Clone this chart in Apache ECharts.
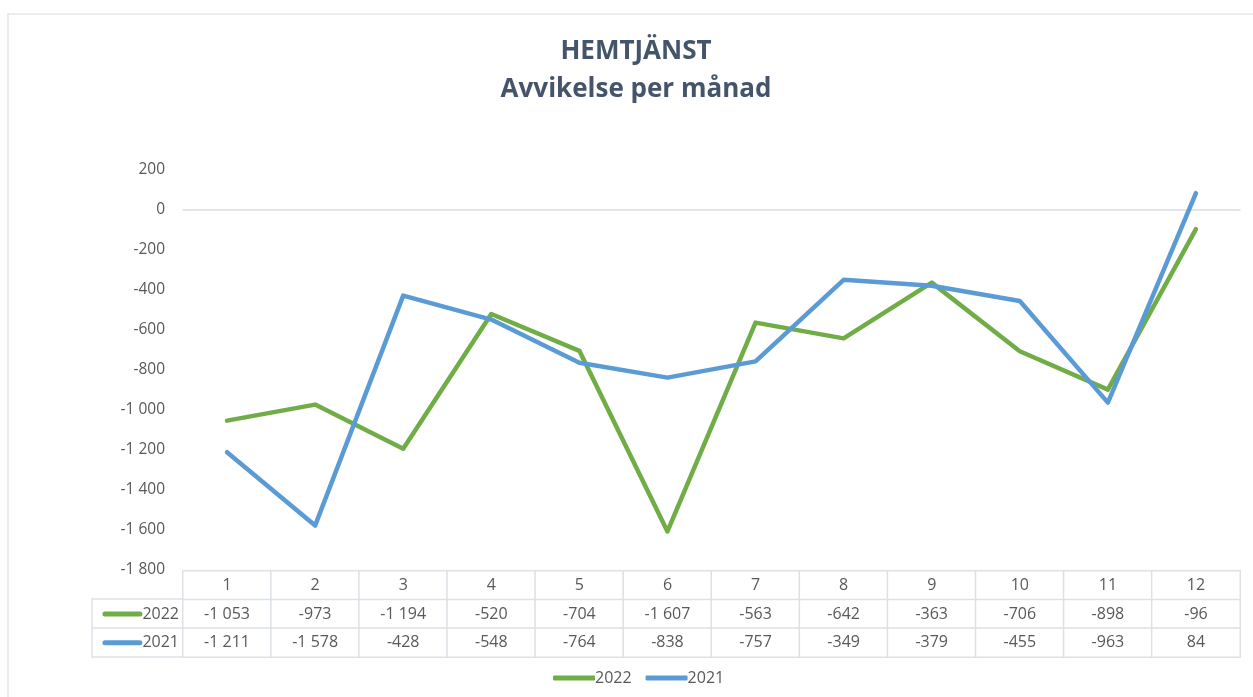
<!DOCTYPE html>
<html><head><meta charset="utf-8">
<script src="https://cdn.jsdelivr.net/npm/echarts@6/dist/echarts.min.js"></script>
<style>html,body{margin:0;padding:0;background:#fff}#c{width:1253px;height:697px}</style>
</head><body><div id="c"></div>
<script>
const months = ['1','2','3','4','5','6','7','8','9','10','11','12'];
const s2022 = [-1053,-973,-1194,-520,-704,-1607,-563,-642,-363,-706,-898,-96];
const s2021 = [-1211,-1578,-428,-548,-764,-838,-757,-349,-379,-455,-963,84];
const seriesNames = ['2022','2021'];
const yTicks = {min:-1800, max:200, interval:200};

const green = '#70ad47', blue = '#5b9bd5';
const txt = '#595959';
const font = 'Open Sans';
const fmt = v => { const s = Math.abs(v).toString().replace(/\B(?=(\d{3})+(?!\d))/g,' '); return (v<0?'-':'') + s; };

const rows = ['', seriesNames[0], seriesNames[1]];
const tableData = [];
months.forEach((m,i)=>{
  tableData.push({value:[i,0,m]});
  tableData.push({value:[i,1,s2022[i]]});
  tableData.push({value:[i,2,s2021[i]]});
});

const chart = echarts.init(document.getElementById('c'));
chart.setOption({
  backgroundColor:'#fff',
  animation:false,
  title:[
    {text:'HEMTJÄNST', left:631, textAlign:'center', top:34, textStyle:{fontFamily:font, fontSize:26, fontWeight:'bold', color:'#44546a'}},
    {text:'Avvikelse per månad', left:631, textAlign:'center', top:72, textStyle:{fontFamily:font, fontSize:26, fontWeight:'bold', color:'#44546a'}}
  ],
  graphic:[
    {type:'rect', shape:{x:8,y:14,width:1260,height:700}, style:{fill:'none', stroke:'#e3e6ea', lineWidth:1.5}, silent:true},
    {type:'rect', shape:{x:92,y:599,width:91,height:58}, style:{fill:'none', stroke:'#dde1e6', lineWidth:1.5}, silent:true},
    {type:'line', shape:{x1:92,y1:628,x2:183,y2:628}, style:{stroke:'#dde1e6', lineWidth:1.5}, silent:true}
  ],
  legend:{
    bottom:6, left:548, itemWidth:42, itemHeight:5, itemGap:14,
    icon:'roundRect',
    textStyle:{fontFamily:font, fontSize:16, color:txt, padding:[0,0,0,-5]},
    data:seriesNames
  },
  visualMap:{show:false, seriesIndex:2, min:-2000, max:2000, inRange:{color:['#fff','#fff']}, dimension:1},
  grid:[
    {left:183, right:13, top:170, height:400},
    {left:183, right:13, top:571, height:86}
  ],
  xAxis:[
    {type:'category', data:months, gridIndex:0, boundaryGap:true,
     axisLine:{show:true, onZero:true, lineStyle:{color:'#d9dde5', width:1.5}},
     axisTick:{show:false}, axisLabel:{show:false}, splitLine:{show:false}},
    {type:'category', data:months, gridIndex:1, position:'top',
     axisLine:{show:false}, axisTick:{show:false}, axisLabel:{show:false}, splitLine:{show:false}}
  ],
  yAxis:[
    {type:'value', gridIndex:0, min:yTicks.min, max:yTicks.max, interval:yTicks.interval,
     axisLine:{show:false}, axisTick:{show:false}, splitLine:{show:false},
     axisLabel:{fontFamily:font, fontSize:15.5, color:txt, margin:18, formatter:fmt}},
    {type:'category', gridIndex:1, data:rows, inverse:true,
     axisLine:{show:false}, axisTick:{show:false}, splitLine:{show:false},
     axisLabel:{margin:4, fontFamily:font, fontSize:16, color:txt,
       formatter:(v,i)=> i===1 ? '{g|}'+v : (i===2 ? '{b|}'+v : ''),
       rich:{g:{width:40, height:5, backgroundColor:green, borderRadius:2.5},
             b:{width:40, height:5, backgroundColor:blue, borderRadius:2.5}}}}
  ],
  series:[
    {name:seriesNames[0], type:'line', data:s2022, xAxisIndex:0, yAxisIndex:0, symbol:'none',
     lineStyle:{color:green, width:4.5, cap:'round', join:'round'}, itemStyle:{color:green}},
    {name:seriesNames[1], type:'line', data:s2021, xAxisIndex:0, yAxisIndex:0, symbol:'none',
     lineStyle:{color:blue, width:4.5, cap:'round', join:'round'}, itemStyle:{color:blue}},
    {type:'heatmap', xAxisIndex:1, yAxisIndex:1, data:tableData,
     itemStyle:{color:'#fff', borderColor:'#dde1e6', borderWidth:1.5},
     label:{show:true, fontFamily:font, fontSize:16, color:txt,
       formatter:p=> p.value[1]===0 ? p.value[2] : fmt(p.value[2])},
     emphasis:{disabled:true}}
  ]
});
</script></body></html>
